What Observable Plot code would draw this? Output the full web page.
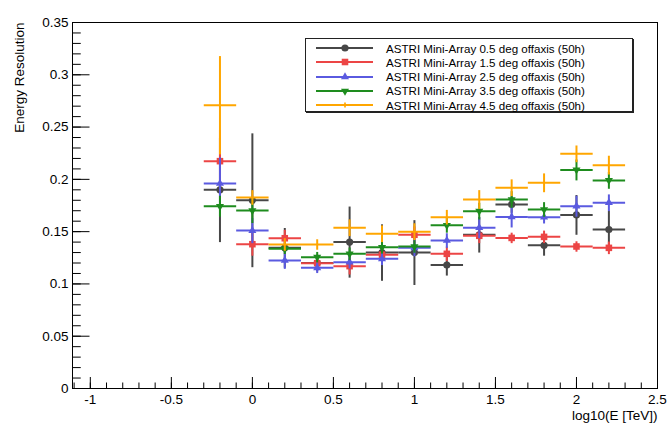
<!DOCTYPE html>
<html><head><meta charset="utf-8">
<script src="https://cdn.jsdelivr.net/npm/d3@7"></script>
<script src="https://cdn.jsdelivr.net/npm/@observablehq/plot@0.6"></script>
<style>
body{margin:0;background:#fff;font-family:"Liberation Sans",Arial,sans-serif;}
#wrap{position:relative;width:670px;height:429px;}
#legend{position:absolute;left:305px;top:38px;width:328px;height:74px;border:1px solid #222;box-shadow:1px 1px 0 #222;background:#fff;box-sizing:border-box;}
.row{position:absolute;left:0;height:14px;display:flex;align-items:center;}
.row svg{margin-left:10px;}
.row span{margin-left:13px;font-size:11.6px;color:#000;white-space:nowrap;}
</style></head><body><div id="wrap"></div>
<script>
// ---- data ----
const logE = [-0.2, 0, 0.2, 0.4, 0.6, 0.8, 1.0, 1.2, 1.4, 1.6, 1.8, 2.0, 2.2];
const binHalfWidth = 0.1;
const seriesNames = [
  "ASTRI Mini-Array 0.5 deg offaxis (50h)",
  "ASTRI Mini-Array 1.5 deg offaxis (50h)",
  "ASTRI Mini-Array 2.5 deg offaxis (50h)",
  "ASTRI Mini-Array 3.5 deg offaxis (50h)",
  "ASTRI Mini-Array 4.5 deg offaxis (50h)"
];
const seriesColors = ["#474747", "#ec4545", "#5a5ae0", "#1e8c1e", "#ffa600"];
const seriesSymbols = ["circle", "square", "triangle", "triangle", "plus"];
const seriesRotate = [0, 0, 0, 180, 0];
const seriesSize = [3.6, 3.7, 3.0, 3.0, 2.1];

const res05 = [0.190, 0.180, 0.1345, 0.120, 0.140, 0.130, 0.130, 0.118, 0.147, 0.176, 0.137, 0.166, 0.152];
const err05 = [0.050, 0.064, 0.019, 0.008, 0.034, 0.027, 0.031, 0.010, 0.017, 0.008, 0.010, 0.019, 0.018];
const res15 = [0.2174, 0.138, 0.1437, 0.1198, 0.117, 0.128, 0.147, 0.1288, 0.146, 0.144, 0.145, 0.1358, 0.1345];
const err15 = [0.030, 0.011, 0.008, 0.007, 0.008, 0.006, 0.008, 0.007, 0.007, 0.005, 0.006, 0.005, 0.006];
const res25 = [0.196, 0.151, 0.1224, 0.1154, 0.1208, 0.124, 0.1345, 0.1415, 0.1537, 0.164, 0.1638, 0.1743, 0.1776];
const err25 = [0.025, 0.012, 0.008, 0.005, 0.006, 0.006, 0.008, 0.007, 0.010, 0.010, 0.006, 0.010, 0.008];
const res35 = [0.1743, 0.1702, 0.1336, 0.1256, 0.1288, 0.135, 0.1358, 0.156, 0.1696, 0.1807, 0.1712, 0.209, 0.199];
const err35 = [0.010, 0.012, 0.005, 0.005, 0.006, 0.006, 0.006, 0.007, 0.008, 0.008, 0.007, 0.010, 0.008];
const res45 = [0.2709, 0.1827, 0.1377, 0.1377, 0.1537, 0.148, 0.150, 0.1638, 0.1807, 0.192, 0.1967, 0.2244, 0.2136];
const err45 = [0.047, 0.007, 0.006, 0.005, 0.008, 0.008, 0.008, 0.007, 0.009, 0.008, 0.009, 0.008, 0.009];

const xTickLabels = [-1, -0.5, 0, 0.5, 1, 1.5, 2, 2.5];
const yTickLabels = [0, 0.05, 0.1, 0.15, 0.2, 0.25, 0.3, 0.35];
const xMinor = d3.range(-11, 26).map(i => i / 10);
const yMinor = d3.range(0, 36).map(i => i / 100);

// ---- build table ----
const allRes = [res05, res15, res25, res35, res45];
const allErr = [err05, err15, err25, err35, err45];
const series = allRes.map((vals, s) => logE.map((x, i) => ({
  x, y: vals[i], err: allErr[s][i],
  x1: x - binHalfWidth, x2: x + binHalfWidth,
  y1: vals[i] - allErr[s][i], y2: vals[i] + allErr[s][i]
})));

const marks = [];
series.forEach((rows, s) => {
  const c = seriesColors[s];
  marks.push(Plot.link(rows, {x1: "x1", x2: "x2", y1: "y", y2: "y", stroke: c, strokeWidth: 2}));
  marks.push(Plot.link(rows, {x1: "x", x2: "x", y1: "y1", y2: "y2", stroke: c, strokeWidth: 2}));
  marks.push(Plot.dot(rows, {x: "x", y: "y", symbol: seriesSymbols[s], r: seriesSize[s], fill: c, stroke: "none", rotate: seriesRotate[s]}));
});

const plot = Plot.plot({
  width: 670, height: 429,
  marginLeft: 72, marginRight: 13, marginTop: 22, marginBottom: 41,
  style: {fontFamily: "Liberation Sans, Arial, sans-serif", background: "#fff"},
  x: {domain: [-1.11, 2.5]},
  y: {domain: [0, 0.35]},
  marks: [
    ...marks,
    Plot.axisX({ticks: xMinor, tickSize: -5.5, fill: "none", stroke: "#000"}),
    Plot.axisX({ticks: xTickLabels, tickSize: -11, fill: "none", stroke: "#000"}),
    Plot.axisX({ticks: xTickLabels, tickSize: 0, tickPadding: 6, tickFormat: d => String(d), fontSize: 13.5, fill: "#000", label: null}),
    Plot.axisY({ticks: yMinor, tickSize: -8.75, fill: "none", stroke: "#000"}),
    Plot.axisY({ticks: yTickLabels, tickSize: -17.5, fill: "none", stroke: "#000"}),
    Plot.axisY({ticks: yTickLabels, tickSize: 0, tickPadding: 4, tickFormat: d => String(d), fontSize: 13.5, fill: "#000", label: null}),
    Plot.frame({stroke: "#000", strokeWidth: 1}),
    Plot.text(["Energy Resolution"], {text: d => d, frameAnchor: "top-left", rotate: -90, textAnchor: "end", dx: -58, fontSize: 13.5, fill: "#000"}),
    Plot.text(["log10(E [TeV])"], {text: d => d, frameAnchor: "bottom-right", textAnchor: "end", lineAnchor: "bottom", dy: 31, fontSize: 13.5, fill: "#000", ariaLabel: "xlabel"})
  ]
});
document.getElementById("wrap").appendChild(plot);

// subscript in x label
const xl = plot.querySelector('g[aria-label="xlabel"] text');
if (xl) {
  xl.textContent = "";
  const ns = "http://www.w3.org/2000/svg";
  const t1 = document.createElementNS(ns, "tspan"); t1.textContent = "log";
  const t2 = document.createElementNS(ns, "tspan"); t2.textContent = "10"; t2.setAttribute("font-size", "9"); t2.setAttribute("dy", "4");
  const t3 = document.createElementNS(ns, "tspan"); t3.textContent = "(E [TeV])"; t3.setAttribute("dy", "-4");
  xl.append(t1, t2, t3);
}

// legend
const legend = document.createElement("div");
legend.id = "legend";
const symMap = {circle: d3.symbolCircle, square: d3.symbolSquare, triangle: d3.symbolTriangle, plus: d3.symbolCross};
seriesNames.forEach((name, s) => {
  const row = document.createElement("div");
  row.className = "row";
  row.style.top = (2 + s * 14.3) + "px";
  const svg = d3.create("svg").attr("width", 57).attr("height", 14);
  svg.append("line").attr("x1", 0).attr("x2", 57).attr("y1", 7).attr("y2", 7).attr("stroke", seriesColors[s]).attr("stroke-width", 2);
  const r = seriesSize[s];
  svg.append("path").attr("d", d3.symbol(symMap[seriesSymbols[s]], Math.PI * r * r)())
    .attr("transform", `translate(29,7) rotate(${seriesRotate[s]})`).attr("fill", seriesColors[s]);
  row.appendChild(svg.node());
  const span = document.createElement("span");
  span.textContent = name;
  row.appendChild(span);
  legend.appendChild(row);
});
document.getElementById("wrap").appendChild(legend);
</script>
</body></html>
